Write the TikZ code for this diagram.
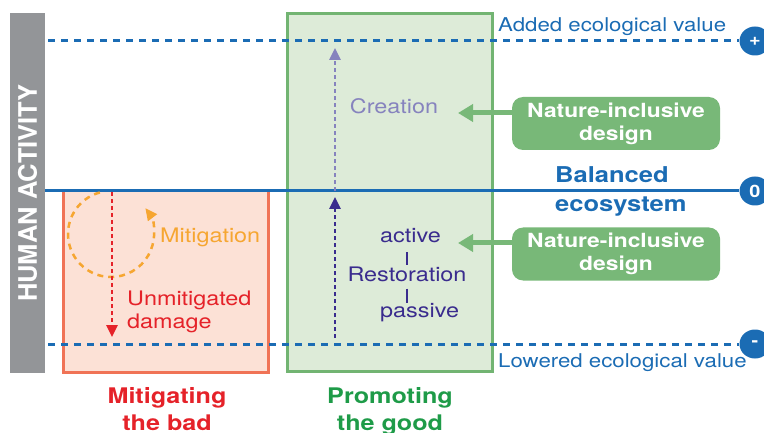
\documentclass[tikz,border=0pt]{standalone}
\usepackage{fontspec}
\setmainfont{TeX Gyre Heros}[FakeStretch=1.17]
\newfontfamily\barfont{TeX Gyre Heros}
\usetikzlibrary{positioning, arrows.meta, shapes.geometric}

\definecolor{lineblue}{HTML}{1B6CB4}
\definecolor{bargray}{HTML}{939598}
\definecolor{goodfill}{HTML}{DDEBD8}
\definecolor{goodline}{HTML}{72B472}
\definecolor{badfill}{HTML}{FCE1D6}
\definecolor{badline}{HTML}{F07356}
\definecolor{designgreen}{HTML}{78B878}
\definecolor{creationpurple}{HTML}{8683BE}
\definecolor{restpurple}{HTML}{3A2C8E}
\definecolor{mitorange}{HTML}{F6A631}
\definecolor{damagered}{HTML}{E52229}
\definecolor{titlegreen}{HTML}{1E9B48}

\begin{document}
\begin{tikzpicture}[x=1pt, y=-1pt]
                \tikzset{
                    txt/.style={inner sep=0pt, font=\fontsize{20}{23}\selectfont},
                    title/.style={inner sep=0pt, align=center, font=\bfseries\fontsize{21.5}{27}\selectfont},
                    level/.style={ellipse, fill=lineblue, text=white, inner sep=0pt, minimum width=31pt, minimum height=29pt, font=\bfseries\fontsize{17}{17}\selectfont},
                    valueline/.style={draw=lineblue, line width=3pt, dash pattern=on 7pt off 6pt},
                    zeroline/.style={draw=lineblue, line width=3pt},
                    area/.style={line width=3pt, minimum width=205pt},
                    design/.style={fill=designgreen, rounded corners=11pt, text=white, align=center, minimum width=208pt, minimum height=53pt, inner sep=0pt, font=\bfseries\fontsize{19.5}{23}\selectfont},
                    designarrow/.style={draw=designgreen, line width=5pt, -{Triangle[length=15pt, width=17pt]}},
                    growth/.style={line width=2.5pt, dash pattern=on 4pt off 3pt, -{Triangle[length=12pt, width=11pt]}}
                }
                \useasboundingbox (0,0) rectangle (764,433);

                % AREAS
                \node[fill=bargray, minimum width=35pt, minimum height=360pt, inner sep=0pt] (bar) at (27.5,193) {};
                \node[area, draw=badline, fill=badfill, minimum height=181pt] (bad) at (165.5,281.5) {};
                \node[area, draw=goodline, fill=goodfill, minimum height=357pt] (good) at (389.5,192.5) {};

                % LEVELS
                \node[level] (plus) at (755,41) {+};
                \node[level] (zero) at (755,191) {0};
                \node[level] (minus) at (755,344) {-};

                \draw[valueline, shorten <=3pt] (bar.east |- plus) -- (plus.west);
                \draw[zeroline] (bar.east |- zero) -- (zero.west);
                \draw[valueline, shorten <=3pt] (bar.east |- minus) -- (minus.west);

                \node[rotate=90, text=white, inner sep=0pt, font=\barfont\bfseries\fontsize{25.5}{26}\selectfont] (human) at (bar) {HUMAN ACTIVITY};

                % MITIGATING THE BAD
                \coordinate (mit) at (111,234);
                \coordinate (dmgstart) at (112,192);
                \coordinate (dmgend) at (112,337);
                \draw[mitorange, line width=2.5pt, dash pattern=on 6pt off 5pt, -{Triangle[length=12pt, width=11pt]}]
                    (mit) ++(-105:43) arc[start angle=-105, end angle=-397, radius=43];
                \draw[growth, damagered] (dmgstart) -- (dmgend);
                \node[txt, text=mitorange, anchor=base west] (mitigation) at (160,243) {Mitigation};
                \node[txt, text=damagered, anchor=base west, align=left] (damage) at (127,328) {Unmitigated\\damage};

                % PROMOTING THE GOOD
                \coordinate (crstart) at (335,191);
                \coordinate (crend) at (335,48);
                \coordinate (rsstart) at (335,338);
                \coordinate (rsend) at (335,197);
                \draw[growth, creationpurple] (crstart) -- (crend);
                \draw[growth, restpurple] (rsstart) -- (rsend);
                \node[txt, text=creationpurple, anchor=base] (creation) at (394,114) {Creation};
                \node[txt, text=restpurple, anchor=base west] (active) at (380,243) {active};
                \node[txt, text=restpurple, anchor=base] (restoration) at (407,282) {Restoration};
                \node[txt, text=restpurple, anchor=base west] (passive) at (380,317) {passive};
                \draw[restpurple, line width=2pt, shorten <=9pt, shorten >=2.5pt] (active.south -| restoration.north) -- (restoration.north);
                \draw[restpurple, line width=2pt, shorten <=6pt] (restoration.south) -- (passive.north -| restoration.south);

                % NATURE-INCLUSIVE DESIGN
                \node[design] (nid1) at (616,123.5) {Nature-inclusive\\design};
                \node[design] (nid2) at (616,254) {Nature-inclusive\\design};
                \coordinate (tip1) at (458,113);
                \coordinate (tip2) at (458,243);
                \draw[designarrow] (tip1 -| nid1.west) -- (tip1);
                \draw[designarrow] (tip2 -| nid2.west) -- (tip2);

                % LABELS
                \node[txt, text=lineblue, anchor=base west, font=\fontsize{19}{22}\selectfont] (added) at (498,32) {Added ecological value};
                \node[txt, text=lineblue, anchor=base west, font=\fontsize{19}{22}\selectfont] (lowered) at (498,367) {Lowered ecological value};
                \node[inner sep=0pt, text=lineblue, anchor=base west, align=left, font=\bfseries\fontsize{21.8}{29}\selectfont] (balanced) at (555,212) {Balanced\\ecosystem};
                \node[title, text=damagered, anchor=base] (badtitle) at (167,430) {Mitigating\\the bad};
                \node[title, text=titlegreen, anchor=base] (goodtitle) at (390,430) {Promoting\\the good};

            \end{tikzpicture}
\end{document}
